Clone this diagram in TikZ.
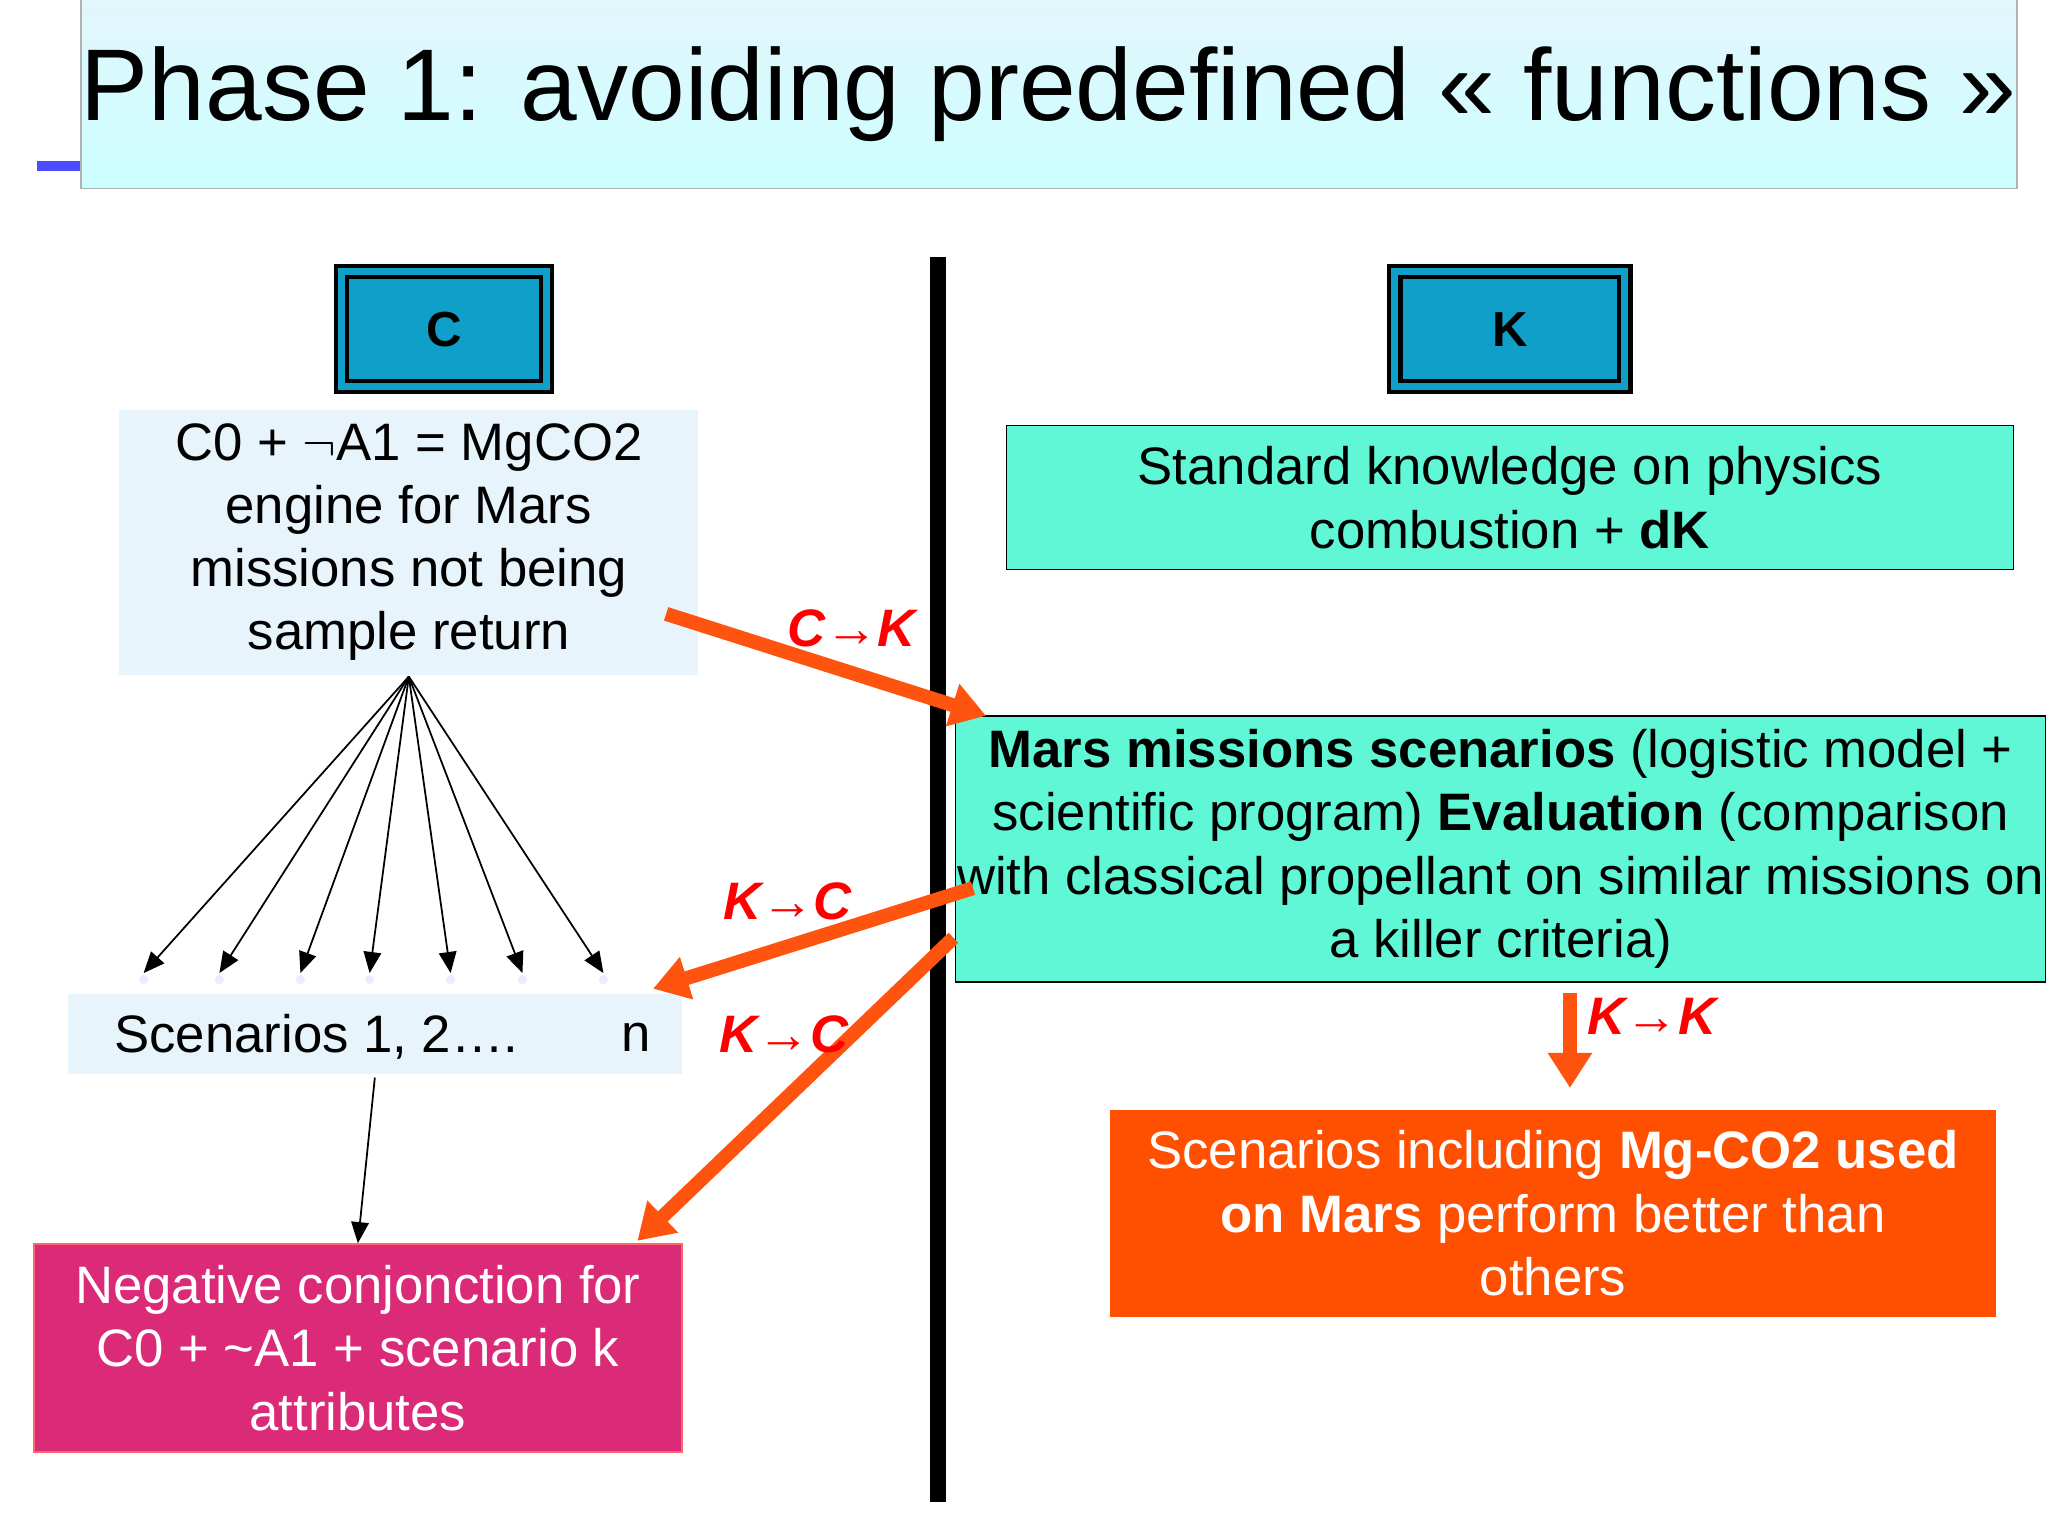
\documentclass[tikz,border=0pt]{standalone}
\usepackage{fontspec}
\setmainfont{Liberation Sans}
\usetikzlibrary{positioning,arrows.meta}
\definecolor{titlebg}{HTML}{D6F2FB}
\definecolor{cktile}{HTML}{109FC8}
\definecolor{paleblue}{HTML}{E8F4FB}
\definecolor{aqua}{HTML}{5FF7D6}
\definecolor{magenta}{HTML}{DB2A78}
\definecolor{flame}{HTML}{FF4F00}
\definecolor{arrowor}{HTML}{FF5410}
\tikzset{
  box/.style={draw, rectangle, inner sep=0pt, align=center},
  tile/.style={box, fill=cktile, double=cktile, draw=black, line width=1.2pt, double distance=2pt, minimum width=2.05cm, minimum height=1.15cm, font=\fontsize{14}{16}\selectfont\bfseries},
  body/.style={font=\fontsize{15}{18}\selectfont},
  flow/.style={-{Triangle[length=10pt,width=12pt]}, arrowor, line width=4pt},
  tag/.style={text=red, font=\fontsize{15}{16}\selectfont\bfseries\itshape},
  fan/.style={-{Triangle[length=6pt,width=5pt]}, black, line width=0.5pt}
}
\begin{document}
\begin{tikzpicture}[x=0.01306cm, y=-0.01306cm]
  \useasboundingbox (0,0) rectangle (1568,1176);
  % title
  \draw[blue!70, line width=3pt] (28,127) -- (80,127);
  \node[box, draw=gray!60, top color=titlebg!70, bottom color=cyan!20, minimum width=1450\pgflinewidth*0+18.94cm, minimum height=1.89cm, font=\fontsize{29}{32}\selectfont] (title) at (803,72) {Phase 1: avoiding predefined « functions »};
  % separator
  \coordinate (sepTop) at (718,197);
  \coordinate (sepBot) at (718,1150);
  \draw[line width=4.5pt] (sepTop) -- (sepBot);
  % column tiles
  \node[tile] (ctile) at (340,252) {C};
  \node[tile, minimum width=2.3cm] (ktile) at (1156,252) {K};
  % C side
  \node[box, draw=none, fill=paleblue, minimum width=5.79cm, minimum height=2.65cm, body] (concept) at (313,415)
    {C0 + $\neg$A1 = MgCO2\\engine for Mars\\missions not being\\sample return};
  \node[box, draw=none, fill=paleblue, minimum width=6.14cm, minimum height=0.8cm, body] (scen) at (287,792) {};
  \node[body, anchor=west] (scenl) at (78,794) {Scenarios 1, 2….};
  \node[body] (scenn) at (487,794) {n};
  \node[box, draw=red!60, fill=magenta, text=white, minimum width=6.48cm, minimum height=2.08cm, body] (neg) at (274,1032)
    {Negative conjonction for\\C0 + \textasciitilde A1 + scenario k\\attributes};
  % K side
  \node[box, fill=aqua, minimum width=10.07cm, minimum height=1.44cm, body] (std) at (1156,381)
    {Standard knowledge on physics\\combustion + \textbf{dK}};
  \node[box, fill=aqua, minimum width=10.9cm, minimum height=2.66cm, body] (mars) at (1149,650)
    {\textbf{Mars missions scenarios} (logistic model +\\scientific program) \textbf{Evaluation} (comparison\\with classical propellant on similar missions on\\a killer criteria)};
  \node[box, draw=none, fill=flame, text=white, minimum width=8.86cm, minimum height=2.07cm, body] (better) at (1189,929)
    {Scenarios including \textbf{Mg-CO2 used}\\\textbf{on Mars} perform better than\\others};
  % fan of scenarios
  \coordinate (root) at (313,518);
  \foreach \x in {110,168,230,283,345,400,462} {
    \fill[paleblue!80!blue!30] (\x,750) circle (3.5);
    \draw[fan] (root) -- (\x,745);
  }
  \draw[fan] (287,825) -- (neg.north);
  % C/K exchanges
  \draw[flow] (510,470) -- (755,548);
  \node[tag] (ck) at (652,481) {C→K};
  \draw[flow] (745,680) -- (500,757);
  \node[tag] (kc1) at (603,690) {K→C};
  \draw[flow] (730,718) -- (488,950);
  \node[tag] (kc2) at (600,792) {K→C};
  \draw[flow] (1202,760) -- (1202,833);
  \node[tag] (kk) at (1265,778) {K→K};
\end{tikzpicture}
\end{document}
